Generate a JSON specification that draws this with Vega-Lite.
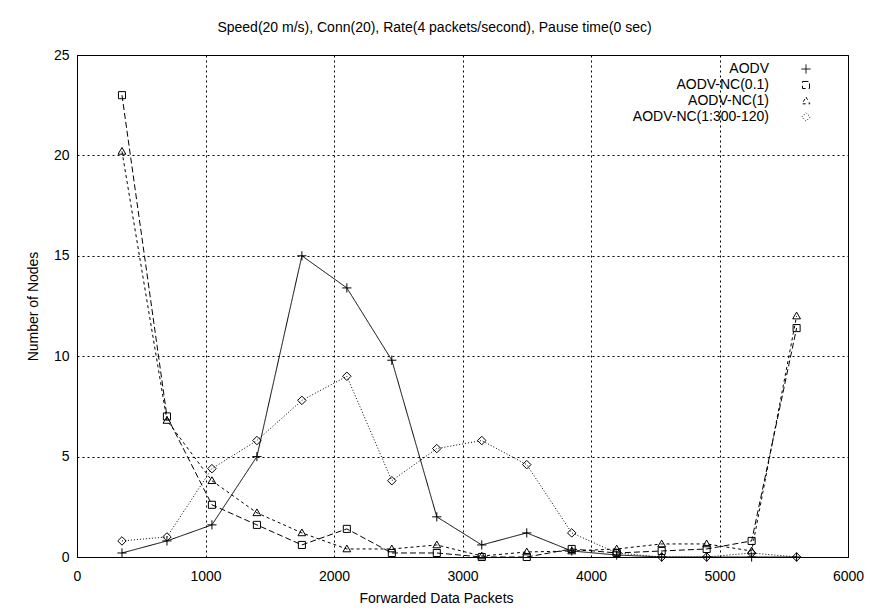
{
  "$schema": "https://vega.github.io/schema/vega-lite/v6.json",
  "width": 771,
  "height": 502,
  "autosize": {"type": "none"},
  "padding": {"left": 77, "top": 55, "right": 22, "bottom": 53},
  "background": "white",
  "title": {
    "text": "Speed(20 m/s), Conn(20), Rate(4 packets/second), Pause time(0 sec)",
    "font": "Liberation Sans",
    "fontSize": 14,
    "fontWeight": "normal",
    "color": "black",
    "anchor": "middle",
    "offset": 13,
    "dx": -28
  },
  "data": {
    "values": [
      {"packets": 350, "series": "AODV", "nodes": 0.2},
      {"packets": 700, "series": "AODV", "nodes": 0.8},
      {"packets": 1050, "series": "AODV", "nodes": 1.6},
      {"packets": 1400, "series": "AODV", "nodes": 5.0},
      {"packets": 1750, "series": "AODV", "nodes": 15.0},
      {"packets": 2100, "series": "AODV", "nodes": 13.4},
      {"packets": 2450, "series": "AODV", "nodes": 9.8},
      {"packets": 2800, "series": "AODV", "nodes": 2.0},
      {"packets": 3150, "series": "AODV", "nodes": 0.6},
      {"packets": 3500, "series": "AODV", "nodes": 1.2},
      {"packets": 3850, "series": "AODV", "nodes": 0.3},
      {"packets": 4200, "series": "AODV", "nodes": 0.1},
      {"packets": 4550, "series": "AODV", "nodes": 0.0},
      {"packets": 4900, "series": "AODV", "nodes": 0.0},
      {"packets": 5250, "series": "AODV", "nodes": 0.0},
      {"packets": 5600, "series": "AODV", "nodes": 0.0},
      {"packets": 350, "series": "AODV-NC(0.1)", "nodes": 23.0},
      {"packets": 700, "series": "AODV-NC(0.1)", "nodes": 7.0},
      {"packets": 1050, "series": "AODV-NC(0.1)", "nodes": 2.6},
      {"packets": 1400, "series": "AODV-NC(0.1)", "nodes": 1.6},
      {"packets": 1750, "series": "AODV-NC(0.1)", "nodes": 0.6},
      {"packets": 2100, "series": "AODV-NC(0.1)", "nodes": 1.4},
      {"packets": 2450, "series": "AODV-NC(0.1)", "nodes": 0.2},
      {"packets": 2800, "series": "AODV-NC(0.1)", "nodes": 0.2},
      {"packets": 3150, "series": "AODV-NC(0.1)", "nodes": 0.0},
      {"packets": 3500, "series": "AODV-NC(0.1)", "nodes": 0.0},
      {"packets": 3850, "series": "AODV-NC(0.1)", "nodes": 0.4},
      {"packets": 4200, "series": "AODV-NC(0.1)", "nodes": 0.2},
      {"packets": 4550, "series": "AODV-NC(0.1)", "nodes": 0.3},
      {"packets": 4900, "series": "AODV-NC(0.1)", "nodes": 0.4},
      {"packets": 5250, "series": "AODV-NC(0.1)", "nodes": 0.8},
      {"packets": 5600, "series": "AODV-NC(0.1)", "nodes": 11.4},
      {"packets": 350, "series": "AODV-NC(1)", "nodes": 20.2},
      {"packets": 700, "series": "AODV-NC(1)", "nodes": 6.8},
      {"packets": 1050, "series": "AODV-NC(1)", "nodes": 3.8},
      {"packets": 1400, "series": "AODV-NC(1)", "nodes": 2.2},
      {"packets": 1750, "series": "AODV-NC(1)", "nodes": 1.2},
      {"packets": 2100, "series": "AODV-NC(1)", "nodes": 0.4},
      {"packets": 2450, "series": "AODV-NC(1)", "nodes": 0.4},
      {"packets": 2800, "series": "AODV-NC(1)", "nodes": 0.6},
      {"packets": 3150, "series": "AODV-NC(1)", "nodes": 0.05},
      {"packets": 3500, "series": "AODV-NC(1)", "nodes": 0.25},
      {"packets": 3850, "series": "AODV-NC(1)", "nodes": 0.3},
      {"packets": 4200, "series": "AODV-NC(1)", "nodes": 0.4},
      {"packets": 4550, "series": "AODV-NC(1)", "nodes": 0.65},
      {"packets": 4900, "series": "AODV-NC(1)", "nodes": 0.65},
      {"packets": 5250, "series": "AODV-NC(1)", "nodes": 0.3},
      {"packets": 5600, "series": "AODV-NC(1)", "nodes": 12.0},
      {"packets": 350, "series": "AODV-NC(1:300-120)", "nodes": 0.8},
      {"packets": 700, "series": "AODV-NC(1:300-120)", "nodes": 1.0},
      {"packets": 1050, "series": "AODV-NC(1:300-120)", "nodes": 4.4},
      {"packets": 1400, "series": "AODV-NC(1:300-120)", "nodes": 5.8},
      {"packets": 1750, "series": "AODV-NC(1:300-120)", "nodes": 7.8},
      {"packets": 2100, "series": "AODV-NC(1:300-120)", "nodes": 9.0},
      {"packets": 2450, "series": "AODV-NC(1:300-120)", "nodes": 3.8},
      {"packets": 2800, "series": "AODV-NC(1:300-120)", "nodes": 5.4},
      {"packets": 3150, "series": "AODV-NC(1:300-120)", "nodes": 5.8},
      {"packets": 3500, "series": "AODV-NC(1:300-120)", "nodes": 4.6},
      {"packets": 3850, "series": "AODV-NC(1:300-120)", "nodes": 1.2},
      {"packets": 4200, "series": "AODV-NC(1:300-120)", "nodes": 0.2},
      {"packets": 4550, "series": "AODV-NC(1:300-120)", "nodes": 0.0},
      {"packets": 4900, "series": "AODV-NC(1:300-120)", "nodes": 0.0},
      {"packets": 5250, "series": "AODV-NC(1:300-120)", "nodes": 0.2},
      {"packets": 5600, "series": "AODV-NC(1:300-120)", "nodes": 0.0}
    ]
  },
  "encoding": {
    "x": {
      "field": "packets",
      "type": "quantitative",
      "scale": {"domain": [0, 6000], "nice": false, "zero": true},
      "axis": {
        "title": "Forwarded Data Packets",
        "values": [0, 1000, 2000, 3000, 4000, 5000, 6000],
        "format": "d",
        "labelPadding": 12,
        "labelFlush": false,
        "titleX": 359,
        "titleY": 41,
        "titleBaseline": "middle"
      }
    },
    "y": {
      "field": "nodes",
      "type": "quantitative",
      "scale": {"domain": [0, 25], "nice": false},
      "axis": {
        "title": "Number of Nodes",
        "values": [0, 5, 10, 15, 20, 25],
        "labelPadding": 8,
        "labelFlush": false,
        "titleX": -44,
        "titleY": 251,
        "titleBaseline": "middle",
        "titleAlign": "center"
      }
    }
  },
  "layer": [
    {
      "mark": {"type": "line", "color": "black", "strokeWidth": 1},
      "encoding": {
        "strokeDash": {
          "field": "series",
          "type": "nominal",
          "scale": {
            "domain": ["AODV", "AODV-NC(0.1)", "AODV-NC(1)", "AODV-NC(1:300-120)"],
            "range": [[1, 0], [6, 3], [3, 3], [1, 2]]
          },
          "legend": {
            "title": null,
            "orient": "none",
            "legendX": 722,
            "legendY": 7,
            "padding": 0,
            "labelAlign": "right",
            "labelOffset": -44,
            "labelFont": "Liberation Sans",
            "labelFontSize": 14,
            "labelColor": "black",
            "symbolSize": 50,
            "symbolStrokeWidth": 1,
            "symbolStrokeColor": "black",
            "rowPadding": 2,
            "labelLimit": 300,
            "encode": {
              "symbols": {
                "update": {
                  "shape": {"signal": "'M-7,0L7,0' + scale('shape', datum.value)"},
                  "stroke": {"value": "black"},
                  "strokeOpacity": {"value": 1},
                  "fill": {"value": "transparent"}
                }
              }
            }
          }
        }
      }
    },
    {
      "mark": {"type": "point", "filled": false, "color": "black", "strokeWidth": 1, "size": 50, "opacity": 1},
      "encoding": {
        "shape": {
          "field": "series",
          "type": "nominal",
          "scale": {
            "domain": ["AODV", "AODV-NC(0.1)", "AODV-NC(1)", "AODV-NC(1:300-120)"],
            "range": [
              "M-1.3,0L1.3,0M0,-1.3L0,1.3",
              "M-1,-1L1,-1L1,1L-1,1Z",
              "M0,-1.1L1.1,0.8L-1.1,0.8Z",
              "M0,-1.2L1.2,0L0,1.2L-1.2,0Z"
            ]
          },
          "legend": null
        }
      }
    }
  ],
  "config": {
    "view": {"stroke": "black", "strokeWidth": 1},
    "axis": {
      "labelFont": "Liberation Sans",
      "labelFontSize": 14,
      "labelColor": "black",
      "titleFont": "Liberation Sans",
      "titleFontSize": 14,
      "titleFontWeight": "normal",
      "titleColor": "black",
      "domainColor": "black",
      "ticks": false,
      "grid": true,
      "gridColor": "black",
      "gridDash": [2, 3],
      "gridOpacity": 1,
      "gridWidth": 1
    }
  }
}
